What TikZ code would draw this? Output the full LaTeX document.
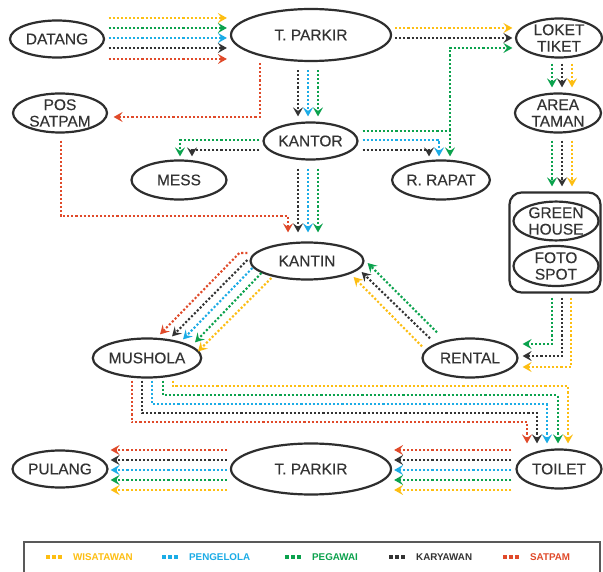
\documentclass[tikz,border=0pt]{standalone}
\usepackage{fontspec}
\setmainfont{Liberation Sans}
\newfontfamily\lblfont[FakeBold=0.35]{Liberation Sans}
\usetikzlibrary{arrows.meta,shapes.geometric}

\definecolor{cWis}{HTML}{FDBE12}
\definecolor{cPeng}{HTML}{1BACE6}
\definecolor{cPeg}{HTML}{0BA24D}
\definecolor{cKar}{HTML}{333333}
\definecolor{cSat}{HTML}{E04A2A}
\definecolor{edge}{HTML}{2E2E2E}
\definecolor{txt}{HTML}{333333}

\tikzset{
  place/.style={ellipse, draw=edge, line width=2.2pt, inner sep=0pt, text=txt,
    font=\lblfont\fontsize{15.5}{16.5}\selectfont, align=center},
  flow/.style={line width=2.1pt, dash pattern=on 2.1pt off 2pt,
    -{Stealth[length=9pt,width=10pt,inset=3.5pt]}},
  legtext/.style={anchor=west, inner sep=0pt, font=\bfseries\fontsize{9.8}{10}\selectfont},
}

\begin{document}
\begin{tikzpicture}[x=1pt,y=-1pt]
\fill[white] (0,0) rectangle (603,572);
\useasboundingbox (0,0) rectangle (603,572);

% ---- places ----
\node[place, minimum width=94pt, minimum height=37pt] (datang) at (57,39) {DATANG};
\node[place, minimum width=160pt, minimum height=52pt] (parkir1) at (311,35) {T. PARKIR};
\node[place, minimum width=86pt, minimum height=39pt] (loket) at (559,38) {LOKET\\TIKET};
\node[place, minimum width=94pt, minimum height=39pt] (pos) at (60,113) {POS\\SATPAM};
\node[place, minimum width=94pt, minimum height=37pt] (kantor) at (310.5,141) {KANTOR};
\node[place, minimum width=86pt, minimum height=39pt] (area) at (558,113) {AREA\\TAMAN};
\node[place, minimum width=95pt, minimum height=39pt] (mess) at (179,180) {MESS};
\node[place, minimum width=95pt, minimum height=39pt] (rapat) at (441,180) {R. RAPAT};
\node[draw=edge, line width=2.2pt, rounded corners=12pt, minimum width=91pt,
      minimum height=100pt, inner sep=0pt] (box) at (555,242.5) {};
\node[place, minimum width=85pt, minimum height=37pt] (green) at (556,221) {GREEN\\HOUSE};
\node[place, minimum width=85pt, minimum height=40pt] (foto) at (556,266) {FOTO\\SPOT};
\node[place, minimum width=113pt, minimum height=37pt] (kantin) at (307,261) {KANTIN};
\node[place, minimum width=96pt, minimum height=39pt] (mushola) at (147,358) {MUSHOLA};
\node[place, minimum width=95pt, minimum height=39pt] (rental) at (470,358) {RENTAL};
\node[place, minimum width=85pt, minimum height=39pt] (toilet) at (559,469) {TOILET};
\node[place, minimum width=160pt, minimum height=51pt] (parkir2) at (311,469) {T. PARKIR};
\node[place, minimum width=95pt, minimum height=37pt] (pulang) at (60,469) {PULANG};

% ---- entrance to parking ----
\foreach \c/\yy in {cWis/18,cPeg/28,cPeng/38,cKar/48,cSat/59}
  \draw[flow,color=\c] ([shift={(3.5,\yy-39)}]datang.east) -- ([shift={(-3,\yy-35)}]parkir1.west);

% ---- parking to ticket booth ----
\foreach \c/\yy in {cWis/28,cKar/38}
  \draw[flow,color=\c] ([shift={(3,\yy-35)}]parkir1.east) -- ([shift={(-2.5,\yy-38)}]loket.west);

% ---- parking to guard post ----
\draw[flow,color=cSat] ([shift={(-51,1)}]parkir1.south) |- ([shift={(5.5,4)}]pos.east);

% ---- parking to office ----
\foreach \c/\xx in {cKar/298,cPeng/308,cPeg/318}
  \draw[flow,color=\c] ([shift={(\xx-311,8)}]parkir1.south) -- ([shift={(\xx-310.5,-5)}]kantor.north);

% ---- office to mess ----
\draw[flow,color=cPeg] ([shift={(-3,-1)}]kantor.west) -| ([shift={(1,-3)}]mess.north);
\draw[flow,color=cKar] ([shift={(-3,9)}]kantor.west) -| ([shift={(13,-3)}]mess.north);

% ---- office to meeting room and ticket booth ----
\draw[flow,color=cPeg] ([shift={(4,-10)}]kantor.east) -| ([shift={(9,-3)}]rapat.north);
\draw[flow,color=cPeng] ([shift={(4,-1)}]kantor.east) -| ([shift={(-2,-3)}]rapat.north);
\draw[flow,color=cKar] ([shift={(4,9)}]kantor.east) -| ([shift={(-12,-3)}]rapat.north);
\coordinate (jn) at ([shift={(9,-29)}]rapat.north);
\draw[flow,color=cPeg] (jn) |- ([shift={(-2.5,10)}]loket.west);

% ---- office to canteen ----
\foreach \c/\xx in {cKar/298,cPeng/308,cPeg/318}
  \draw[flow,color=\c] ([shift={(\xx-310.5,8)}]kantor.south) -- ([shift={(\xx-307,-9)}]kantin.north);

% ---- guard post to canteen ----
\draw[flow,color=cSat] ([shift={(1,7)}]pos.south) |- ([shift={(-19,-25)}]kantin.north)
  -- ([shift={(-19,-9)}]kantin.north);

% ---- canteen to prayer room ----
\draw[flow,color=cSat] ([shift={(-2,-8)}]kantin.west) -- ([shift={(-10,-8)}]kantin.west)
  -- ([shift={(13,-3)}]mushola.north);
\draw[flow,color=cKar] ([shift={(-2,-1)}]kantin.west) -- ([shift={(25,-1)}]mushola.north);
\draw[flow,color=cPeng] ([shift={(3,7)}]kantin.west) -- ([shift={(36,2)}]mushola.north);
\draw[flow,color=cPeg] ([shift={(12,12)}]kantin.west) -- ([shift={(48,5)}]mushola.north);
\draw[flow,color=cWis] ([shift={(22,17)}]kantin.west) -- ([shift={(51,14)}]mushola.north);

% ---- rental to canteen ----
\draw[flow,color=cPeg] ([shift={(-33,-5)}]rental.north) -- ([shift={(3,2)}]kantin.east);
\draw[flow,color=cKar] ([shift={(-40,1)}]rental.north) -- ([shift={(-3,11)}]kantin.east);
\draw[flow,color=cWis] ([shift={(-48,9)}]rental.north) -- ([shift={(-11,16)}]kantin.east);

% ---- ticket booth to garden ----
\foreach \c/\xx in {cPeg/552,cKar/562,cWis/572}
  \draw[flow,color=\c] ([shift={(\xx-559,5)}]loket.south) -- ([shift={(\xx-558,-5)}]area.north);

% ---- garden to green house group ----
\foreach \c/\xx in {cPeg/552,cKar/562,cWis/572}
  \draw[flow,color=\c] ([shift={(\xx-558,7)}]area.south) -- ([shift={(\xx-555,-5)}]box.north);

% ---- green house group to rental ----
\foreach \c/\xx/\yy in {cPeg/552/344,cKar/562/356,cWis/571/367}
  \draw[flow,color=\c] ([shift={(\xx-555,4)}]box.south) |- ([shift={(4,\yy-358)}]rental.east);

% ---- prayer room to toilet ----
\foreach \c/\xs/\xe/\yb in {cSat/132/527/424,cKar/142/537/415,cPeng/152/547/406,cPeg/163/558/397,cWis/173/568/388}
  \draw[flow,color=\c] ([shift={(\xs-147,2)}]mushola.south) |- ([shift={(\xe-559,\yb-450)}]toilet.north)
    -- ([shift={(\xe-559,-5)}]toilet.north);

% ---- toilet to parking, parking to exit ----
\foreach \c/\yy in {cSat/450,cKar/460,cPeng/470,cPeg/480,cWis/490}{
  \draw[flow,color=\c] ([shift={(-4,\yy-469)}]toilet.west) -- ([shift={(2,\yy-469)}]parkir2.east);
  \draw[flow,color=\c] ([shift={(-3,\yy-469)}]parkir2.west) -- ([shift={(2,\yy-469)}]pulang.east);
}

% ---- legend ----
\draw[draw=black!65, line width=1.5pt] (24,542) rectangle (600,585);
\foreach \c/\x/\t in {cWis/46/WISATAWAN,cPeng/162/PENGELOLA,cPeg/285/PEGAWAI,cKar/389/KARYAWAN,cSat/503/SATPAM}{
  \draw[color=\c, line width=3.5pt, dash pattern=on 3.5pt off 2.5pt] (\x,557) -- ++(15.5,0);
  \node[legtext, text=\c] (lg\t) at (\x+27,557) {\t};
}
\end{tikzpicture}
\end{document}
